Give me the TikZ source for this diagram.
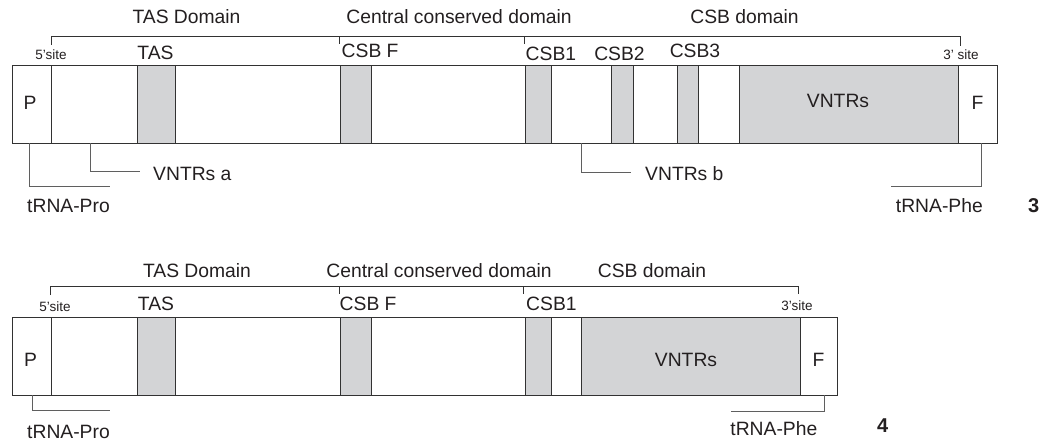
\documentclass[tikz,border=0pt]{standalone}
\usepackage{fontspec}
\setmainfont{Liberation Sans}
\definecolor{shade}{RGB}{211,212,214}
\definecolor{ink}{RGB}{35,31,32}
\definecolor{edge}{RGB}{50,50,50}
\definecolor{lead}{RGB}{95,95,95}
\begin{document}
\begin{tikzpicture}[x=1pt,y=-1pt,
  big/.style={font=\fontsize{19.3}{22}\selectfont, text=ink, inner sep=0pt, anchor=base},
  bigw/.style={big, anchor=base west},
  bige/.style={big, anchor=base east},
  small/.style={font=\fontsize{13.5}{16}\selectfont, text=ink, inner sep=0pt, anchor=base},
  num/.style={font=\fontsize{20}{22}\bfseries\selectfont, text=ink, inner sep=0pt, anchor=base west},
  segbox/.style={draw=edge, line width=1pt, fill=white},
  shadebox/.style={draw=edge, line width=1pt, fill=shade},
  brk/.style={draw=edge, line width=0.9pt},
  leader/.style={draw=lead, line width=1pt}]
\useasboundingbox (0,0) rectangle (1041,442);

% ================= Diagram 3 =================
% bracket
\draw[brk] (51,45) -- (51,36) -- (960,36) -- (960,46);
\draw[brk] (339,36) -- (339,44);
\draw[brk] (524,36) -- (524,44);
% domain labels
\node[big] (d3tas) at (186.5,23) {TAS Domain};
\node[big] (d3ccd) at (459,23) {Central conserved domain};
\node[big] (d3csb) at (744.5,23) {CSB domain};
% box
\draw[segbox] (12,65) rectangle (997,143);
\draw[segbox] (12,65) rectangle (51,143);
\draw[shadebox] (137,65) rectangle (175,143);
\draw[shadebox] (340,65) rectangle (371,143);
\draw[shadebox] (525,65) rectangle (551,143);
\draw[shadebox] (611,65) rectangle (633,143);
\draw[shadebox] (677,65) rectangle (698,143);
\draw[shadebox] (739,65) rectangle (958,143);
% labels above box
\node[small] (d3five) at (51,59.5) {5’site};
\node[big] (d3tasl) at (155.5,59.5) {TAS};
\node[bigw] (d3csbf) at (341.5,57) {CSB F};
\node[bigw] (d3csb1) at (525.5,60.5) {CSB1};
\node[big] (d3csb2) at (619.5,60) {CSB2};
\node[big] (d3csb3) at (695,57) {CSB3};
\node[small] (d3three) at (961,59.5) {3’ site};
% labels inside box
\node[big] (d3P) at (30,109) {P};
\node[big] (d3F) at (977.5,109) {F};
\node[big] (d3V) at (838,107) {VNTRs};
% leaders
\coordinate (d3a1) at (29,143);
\coordinate (d3a2) at (110,186);
\draw[leader] (d3a1) |- (d3a2);
\node[bigw] (d3pro) at (27,212) {tRNA-Pro};
\coordinate (d3b1) at (90,143);
\coordinate (d3b2) at (140,171);
\draw[leader] (d3b1) |- (d3b2);
\node[bigw] (d3va) at (153,180) {VNTRs a};
\coordinate (d3c1) at (581,143);
\coordinate (d3c2) at (631,172);
\draw[leader] (d3c1) |- (d3c2);
\node[bigw] (d3vb) at (645,180) {VNTRs b};
\coordinate (d3d1) at (981,143);
\coordinate (d3d2) at (891,186);
\draw[leader] (d3d1) |- (d3d2);
\node[bige] (d3phe) at (983,212.5) {tRNA-Phe};
\node[num] (n3) at (1028,212) {3};

% ================= Diagram 4 =================
\draw[brk] (50,295) -- (50,286) -- (798,286) -- (798,294);
\draw[brk] (339,286) -- (339,294);
\draw[brk] (523,286) -- (523,294);
\node[big] (d4tas) at (197,277) {TAS Domain};
\node[big] (d4ccd) at (439,277) {Central conserved domain};
\node[big] (d4csb) at (652,277) {CSB domain};
\draw[segbox] (12,317) rectangle (837,395);
\draw[segbox] (12,317) rectangle (51,395);
\draw[shadebox] (137,317) rectangle (175,395);
\draw[shadebox] (340,317) rectangle (371,395);
\draw[shadebox] (525,317) rectangle (551,395);
\draw[shadebox] (581,317) rectangle (800,395);
\node[small] (d4five) at (55,311.5) {5’site};
\node[big] (d4tasl) at (156,310.5) {TAS};
\node[bigw] (d4csbf) at (339.5,310.5) {CSB F};
\node[bigw] (d4csb1) at (526,310) {CSB1};
\node[small] (d4three) at (797,310) {3’site};
\node[big] (d4P) at (30.5,366.5) {P};
\node[big] (d4F) at (818.5,366.5) {F};
\node[big] (d4V) at (686,366.5) {VNTRs};
\coordinate (d4a1) at (32,395);
\coordinate (d4a2) at (110,410);
\draw[leader] (d4a1) |- (d4a2);
\node[bigw] (d4pro) at (27,438) {tRNA-Pro};
\coordinate (d4d1) at (824,395);
\coordinate (d4d2) at (731,411);
\draw[leader] (d4d1) |- (d4d2);
\node[bige] (d4phe) at (817.5,435) {tRNA-Phe};
\node[num] (n4) at (877,432) {4};
\end{tikzpicture}
\end{document}
